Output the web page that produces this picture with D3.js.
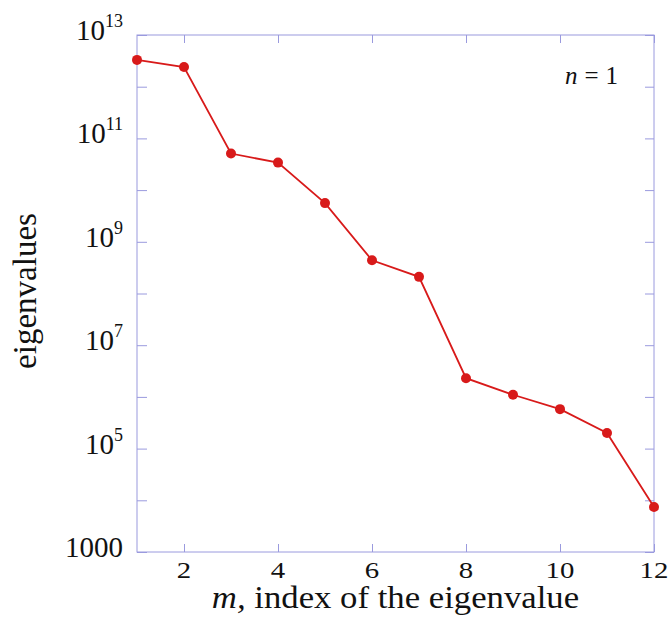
<!DOCTYPE html>
<html>
<head>
<meta charset="utf-8">
<script src="https://cdn.jsdelivr.net/npm/d3@7"></script>
<style>
  body { margin: 0; background: #fff; }
  svg text { font-family: "Liberation Serif", "Times New Roman", serif; fill: #111; }
</style>
</head>
<body>
<div id="vis"></div>
<script>
// eigenvalue index and value
var indices = [1, 2, 3, 4, 5, 6, 7, 8, 9, 10, 11, 12];
var eigenvalues = [3.3e12, 2.4e12, 5.1e10, 3.4e10, 5.6e9, 4.4e8, 2.1e8, 2.3e6, 1.1e6, 5.8e5, 2.0e5, 7.4e3];
var xTicks = [2, 4, 6, 8, 10, 12];
var yMajor = [1e3, 1e5, 1e7, 1e9, 1e11, 1e13];
var yMinor = [1e4, 1e6, 1e8, 1e10, 1e12];

var width = 672, height = 627;
var margin = {left: 137, top: 35, right: 18, bottom: 75};
var w = width - margin.left - margin.right;
var h = height - margin.top - margin.bottom;
var frameColor = "#9a9ade";
var red = "#d81a1a";
var serif = "'Liberation Serif', 'Times New Roman', serif";

var svg = d3.select("#vis").append("svg")
    .attr("width", width)
    .attr("height", height);

var g = svg.append("g").attr("transform", "translate(" + margin.left + "," + margin.top + ")");

var x = d3.scaleLinear().domain([1, 12]).range([0, w]);
var y = d3.scaleLog().domain([1e3, 1e13]).range([h, 0]);

// frame
g.append("rect")
    .attr("width", w).attr("height", h)
    .style("fill", "none")
    .style("stroke", frameColor)
    .style("stroke-width", 1);

// ticks pointing inward, labels drawn separately
function styleAxis(sel) {
  sel.select(".domain").remove();
  sel.selectAll(".tick line").style("stroke", frameColor);
  sel.selectAll(".tick text").remove();
}
var yTicks = yMajor.concat(yMinor);
g.append("g").attr("transform", "translate(0," + h + ")")
  .call(d3.axisBottom(x).tickValues(xTicks).tickSize(-8)).call(styleAxis);
g.append("g")
  .call(d3.axisTop(x).tickValues(xTicks).tickSize(-8)).call(styleAxis);
g.append("g")
  .call(d3.axisLeft(y).tickValues(yTicks).tickSize(-10)).call(styleAxis);
g.append("g").attr("transform", "translate(" + w + ",0)")
  .call(d3.axisRight(y).tickValues(yTicks).tickSize(-9)).call(styleAxis);

// x tick labels (reference glyphs are a bit wide, so stretch them)
g.selectAll(".xlab").data(xTicks).enter().append("text")
    .attr("transform", function(d) { return "translate(" + x(d) + "," + (h + 26) + ") scale(1.2,1)"; })
    .attr("text-anchor", "middle")
    .style("font-family", serif)
    .style("font-size", "24px")
    .text(function(d) { return d; });

// y tick labels with superscripts
yMajor.forEach(function(v) {
  var e = Math.round(Math.log10(v));
  var t = g.append("text")
      .attr("x", -14)
      .attr("y", y(v) + 5)
      .attr("text-anchor", "end")
      .style("font-family", serif)
      .style("font-size", "29px");
  if (e === 3) {
    t.text("1000");
  } else {
    t.append("tspan").text("10");
    t.append("tspan")
        .attr("dy", -13)
        .style("font-size", "18px")
        .text(e);
  }
});

// line and points
var line = d3.line()
    .x(function(d, i) { return x(indices[i]); })
    .y(function(d) { return y(d); });

g.append("path")
    .datum(eigenvalues)
    .attr("d", line)
    .style("fill", "none")
    .style("stroke", red)
    .style("stroke-width", 1.8);

g.selectAll(".pt").data(eigenvalues).enter().append("circle")
    .attr("cx", function(d, i) { return x(indices[i]); })
    .attr("cy", function(d) { return y(d); })
    .attr("r", 5)
    .style("fill", red);

// n = 1 label
var lab = g.append("text")
    .attr("x", w - 36)
    .attr("y", 49)
    .attr("text-anchor", "end")
    .style("font-family", serif)
    .style("font-size", "25px");
lab.append("tspan").style("font-style", "italic").text("n");
lab.append("tspan").attr("dx", 7).text("=");
lab.append("tspan").attr("dx", 7).text("1");

// axis titles
var xt = svg.append("text")
    .attr("transform", "translate(" + (margin.left + w / 2) + ",608) scale(1.12,1)")
    .attr("text-anchor", "middle")
    .style("font-family", serif)
    .style("font-size", "31px");
xt.append("tspan").style("font-style", "italic").text("m,");
xt.append("tspan").text(" index of the eigenvalue");

svg.append("text")
    .attr("transform", "translate(36,291) rotate(-90)")
    .attr("text-anchor", "middle")
    .style("font-family", serif)
    .style("font-size", "33px")
    .text("eigenvalues");
</script>
</body>
</html>
